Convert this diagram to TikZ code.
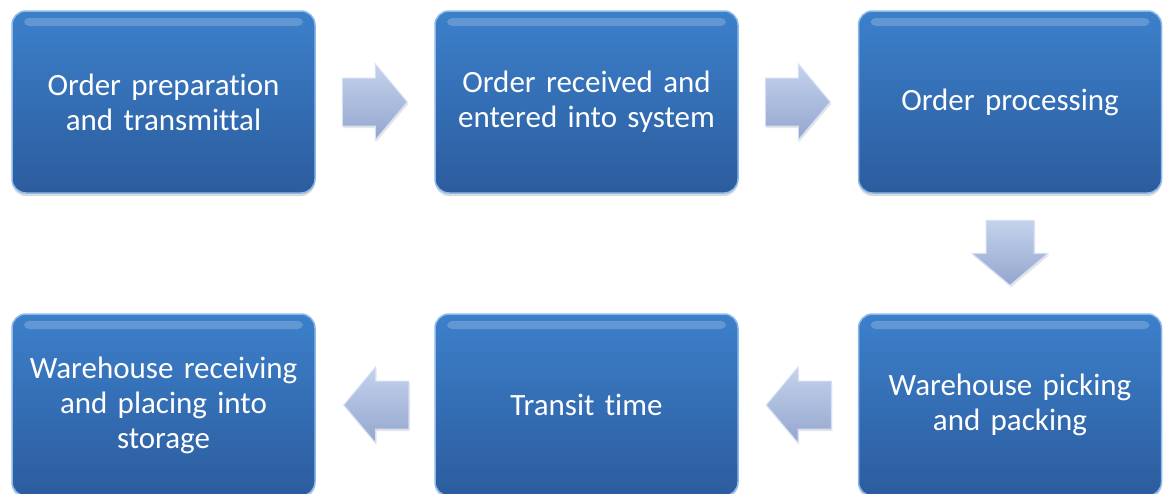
\documentclass[tikz,border=0pt]{standalone}
\usepackage{fontspec}
\setmainfont[Ligatures=NoCommon]{Carlito}
\usetikzlibrary{shapes,shadows,arrows,calc,positioning}
\definecolor{boxtop}{RGB}{60,128,202}
\definecolor{boxbot}{RGB}{44,92,158}
\definecolor{boxedge}{RGB}{140,185,235}
\definecolor{arrtop}{RGB}{196,210,236}
\definecolor{arrbot}{RGB}{148,166,206}
\definecolor{arredge}{RGB}{214,224,244}
\tikzstyle{box} = [rectangle, rounded corners=14pt, draw=boxedge, line width=1.5pt, top color=boxtop, bottom color=boxbot, minimum width=303pt, minimum height=182pt, text width=290pt, align=center, text=white, font=\fontsize{31}{35}\selectfont, drop shadow={opacity=0.3, shadow xshift=0pt, shadow yshift=-3pt}, path picture={\fill[white, opacity=0.2, rounded corners=5pt] ($(path picture bounding box.north west)+(12pt,-7pt)$) rectangle ($(path picture bounding box.north east)+(-12pt,-15pt)$);}]
\tikzstyle{barrow} = [single arrow, draw=arredge, line width=1pt, top color=arrtop, bottom color=arrbot, minimum height=65pt, inner xsep=0pt, inner ysep=23.5pt, single arrow head extend=14pt, single arrow tip angle=100, anchor=tail, drop shadow={opacity=0.2, shadow xshift=1pt, shadow yshift=-2pt}]

\begin{document}
\begin{tikzpicture}
	\useasboundingbox (0,0) rectangle (1170pt,-493pt);
	
	\node [box] at (163.5pt,-102pt) (prep) {Order preparation\\and transmittal};
	\node [box, right of=prep, node distance=423pt] (recv) {Order received and\\entered into system};
	\node [box, right of=recv, node distance=423.5pt] (proc) {Order processing};
	
	\node [box, below of=proc, node distance=303pt] (pick) {Warehouse picking\\and packing};
	\node [box, left of=pick, node distance=423.5pt] (transit) {Transit time};
	\node [box, left of=transit, node distance=423pt] (store) {Warehouse receiving\\and placing into\\storage};
	
	\node [barrow] at ($(prep.east)+(26pt,0)$) (a1) {};
	\node [barrow] at ($(recv.east)+(26pt,0)$) (a2) {};
	\node [barrow, shape border rotate=270, inner xsep=23.5pt, inner ysep=0pt] at ($(proc.south)+(0,-26pt)$) (a3) {};
	\node [barrow, shape border rotate=180] at ($(pick.west)+(-26pt,0)$) (a4) {};
	\node [barrow, shape border rotate=180] at ($(transit.west)+(-25pt,0)$) (a5) {};
	
\end{tikzpicture}
\end{document}
